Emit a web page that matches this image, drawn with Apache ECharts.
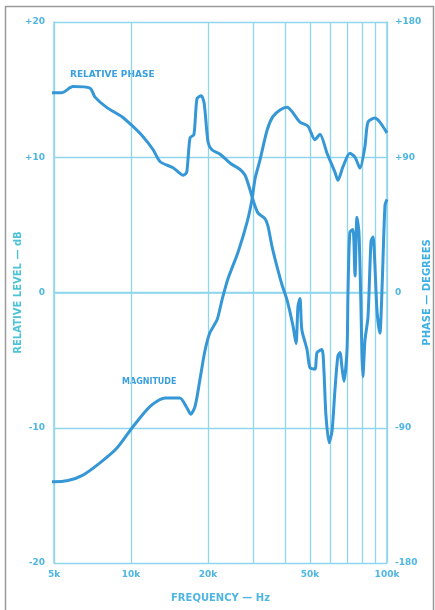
<!DOCTYPE html>
<html><head><meta charset="utf-8">
<script src="https://cdn.jsdelivr.net/npm/echarts@6/dist/echarts.min.js"></script>
<style>html,body{margin:0;padding:0;background:#fff}#c{width:435px;height:610px}</style>
</head><body><div id="c"></div>
<script>
// Frequency grid (Hz) and labelled ticks
const freqGrid = [5000, 10000, 20000, 30000, 40000, 50000, 60000, 70000, 80000, 90000, 100000];
const freqLabels = [5000, 10000, 20000, 50000, 100000];
// Level axis (dB) and phase axis (degrees)
const levelTicks = [-20, -10, 0, 10, 20];
const phaseTicks = [-180, -90, 0, 90, 180];

// Magnitude curve: frequency (Hz) and relative level (dB)
const magFreq = [4730, 5000, 5670, 6490, 7560, 8810, 10100, 11900, 13600, 15500, 16500, 17100, 17800, 18600, 19400, 20300, 21700, 22700, 23900, 26200, 28400, 29700, 30500, 31900, 34000, 35800, 38200, 40700, 45700, 49100, 52300, 54700, 58300, 62600, 64300, 67300, 71600, 75000, 78400, 82000, 84300, 89700, 93800, 100000];
const magDb = [-14.0, -14.0, -13.9, -13.5, -12.6, -11.5, -10.0, -8.4, -7.8, -7.8, -8.5, -9.0, -8.4, -6.4, -4.4, -3.0, -2.0, -0.5, 1.0, 3.0, 5.2, 6.9, 8.4, 9.8, 12.0, 13.0, 13.5, 13.7, 12.6, 12.3, 11.3, 11.7, 10.3, 8.9, 8.3, 9.3, 10.3, 10.0, 9.2, 10.8, 12.6, 12.9, 12.6, 11.8];

// Relative phase curve: frequency (Hz) and phase (degrees)
const phaseFreq = [4730, 5370, 5930, 6910, 7230, 8050, 9210, 10100, 11100, 12200, 13000, 14600, 16000, 16500, 17000, 17600, 18100, 18800, 19300, 20000, 20700, 22300, 24400, 26600, 27900, 29200, 29900, 31300, 33400, 34300, 35500, 37200, 38900, 40700, 42900, 44100, 44900, 45700, 46500, 48700, 50000, 52300, 53300, 55700, 56700, 57700, 59400, 61000, 62600, 64300, 65500, 66700, 67900, 69800, 70400, 71600, 73600, 75000, 76300, 77700, 79100, 79800, 80500, 82000, 84300, 86600, 88100, 91400, 93800, 95600, 98200, 100000];
const phaseDeg = [133, 133, 137, 136, 130, 123, 117, 111, 104, 95, 87, 83, 78, 80, 103, 105, 129, 131, 126, 100, 95, 92, 86, 82, 78, 68, 62, 53, 49, 44, 31, 17, 5, -5, -22, -34, -9, -4, -25, -38, -50, -51, -40, -38, -52, -81, -100, -92, -65, -42, -40, -50, -59, -38, 0, 40, 42, 11, 50, 40, -9, -41, -56, -32, -16, 34, 37, -12, -27, 2, 58, 62];

const GRID = '#8fd6ec';
const TXT = '#4fb6e2';
const LINE = '#3597d6';
const FONT = '"DejaVu Sans", sans-serif';

const chart = echarts.init(document.getElementById('c'), null, {renderer: 'canvas'});
const signed = v => v > 0 ? '+' + v : String(v);

chart.setOption({
  backgroundColor: '#ffffff',
  animation: false,
  grid: {left: 54, right: 48, top: 22, bottom: 47, containLabel: false, outerBoundsMode: 'none'},
  xAxis: {
    type: 'log', logBase: 10, min: 5000, max: 100000,
    name: 'FREQUENCY — Hz', nameLocation: 'middle', nameGap: 30, nameMoveOverlap: false,
    nameTextStyle: {color: TXT, fontFamily: FONT, fontSize: 10, fontWeight: 'bold'},
    axisLine: {show: true, lineStyle: {color: GRID, width: 1.5}},
    axisTick: {show: false, customValues: freqGrid},
    axisLabel: {customValues: freqLabels, color: TXT, fontFamily: FONT, fontSize: 9, fontWeight: 'bold', margin: 7,
      formatter: v => Math.round(v / 1000) + 'k'},
    splitLine: {show: true, lineStyle: {color: GRID, width: 1.3}}
  },
  yAxis: [{
    type: 'value', min: -20, max: 20, interval: 10,
    name: 'RELATIVE LEVEL — dB', nameLocation: 'middle', nameGap: 31, nameRotate: 90, nameMoveOverlap: false,
    nameTextStyle: {color: '#4cc3d6', fontFamily: FONT, fontSize: 10, fontWeight: 'bold'},
    axisLine: {show: true, lineStyle: {color: GRID, width: 1.5}},
    axisTick: {show: false},
    axisLabel: {color: TXT, fontFamily: FONT, fontSize: 9, fontWeight: 'bold', margin: 9, formatter: signed},
    splitLine: {show: true, lineStyle: {color: GRID, width: 1.3}}
  }, {
    type: 'value', min: -180, max: 180, interval: 90, position: 'right',
    name: 'PHASE — DEGREES', nameLocation: 'middle', nameGap: 35, nameRotate: 90, nameMoveOverlap: false,
    nameTextStyle: {color: '#3cb0e4', fontFamily: FONT, fontSize: 10, fontWeight: 'bold'},
    axisLine: {show: true, lineStyle: {color: GRID, width: 1.5}},
    axisTick: {show: false},
    axisLabel: {color: TXT, fontFamily: FONT, fontSize: 9, fontWeight: 'bold', margin: 8, formatter: signed},
    splitLine: {show: false}
  }],
  graphic: [
    {type: 'rect', left: 3, top: 4, shape: {width: 428, height: 612}, style: {fill: 'none', stroke: '#9a9a9a', lineWidth: 1.5}, silent: true},
    {type: 'text', left: 70, top: 70, style: {text: 'RELATIVE PHASE', fill: '#3a9fdc', font: 'bold 9px ' + FONT}},
    {type: 'text', left: 122, top: 378, style: {text: 'MAGNITUDE', fill: '#3a9fdc', font: 'bold 8px ' + FONT}}
  ],
  series: [{
    name: 'Magnitude', type: 'line', yAxisIndex: 0, clip: false,
    data: magFreq.map((f, i) => [f, magDb[i]]),
    showSymbol: false, smooth: 0.25,
    lineStyle: {color: LINE, width: 3}
  }, {
    name: 'Relative phase', type: 'line', yAxisIndex: 1, clip: false,
    data: phaseFreq.map((f, i) => [f, phaseDeg[i]]),
    showSymbol: false, smooth: 0.25,
    lineStyle: {color: LINE, width: 3}
  }]
});
</script>
</body></html>
